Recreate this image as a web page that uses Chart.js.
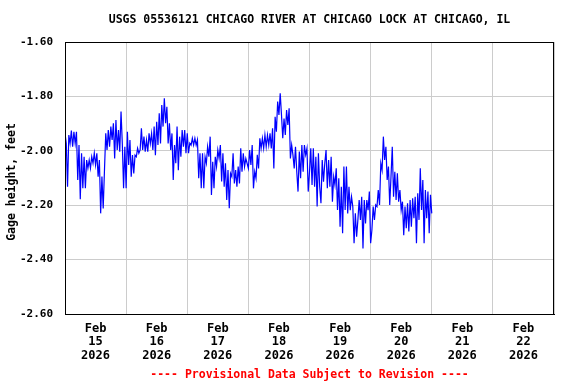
<!DOCTYPE html>
<html>
<head>
<meta charset="utf-8">
<script src="https://cdn.jsdelivr.net/npm/chart.js@4.4.1/dist/chart.umd.min.js"></script>
<style>
    html, body { margin: 0; padding: 0; background: #ffffff; }
    #wrap { width: 576px; height: 384px; }
</style>
</head>
<body>
<div id="wrap"><canvas id="Chart1" width="576" height="384"></canvas></div>
<script>
// gage height (feet), every 30 minutes, one array per day starting 00:00
var feb15 = [
    -1.936, -1.973, -2.132, -1.942, -1.973, -1.926, -1.985, -1.930, -1.973, -1.930, -2.107, -1.979,
    -2.178, -2.009, -2.138, -2.022, -2.138, -2.034, -2.064, -2.034, -2.064, -2.022, -2.046, -2.009,
    -2.052, -2.009, -2.095, -2.034, -2.230, -2.095, -2.212, -2.071, -1.936, -1.997, -1.924, -1.985,
    -1.911, -1.960, -1.899, -2.028, -1.887, -1.997, -1.924, -2.003, -1.856, -1.973, -2.138, -1.985
];
var feb16 = [
    -2.138, -1.930, -2.052, -1.960, -2.095, -2.016, -2.083, -2.016, -2.022, -1.991, -2.009, -1.997,
    -1.917, -1.997, -1.948, -2.003, -1.960, -2.003, -1.936, -1.973, -1.936, -1.997, -1.911, -2.016,
    -1.893, -1.979, -1.862, -1.973, -1.832, -1.911, -1.807, -1.899, -1.838, -1.973, -1.899, -1.997,
    -1.936, -2.107, -1.979, -2.046, -1.911, -2.071, -1.948, -2.022, -1.924, -1.985, -1.924, -2.009
];
var feb17 = [
    -1.936, -2.009, -1.972, -1.979, -1.954, -1.979, -1.954, -1.979, -1.960, -2.101, -2.009, -2.138,
    -2.009, -2.138, -2.022, -2.046, -1.985, -2.022, -1.948, -2.162, -2.040, -2.138, -2.022, -2.058,
    -1.997, -2.028, -1.979, -2.113, -2.009, -2.132, -2.046, -2.181, -2.071, -2.211, -2.083, -2.095,
    -2.009, -2.120, -2.071, -2.132, -2.058, -2.120, -1.991, -2.077, -2.009, -2.058, -2.028, -2.046
];
var feb18 = [
    -2.065, -1.997, -2.052, -1.979, -2.138, -2.077, -2.101, -2.015, -2.065, -1.954, -1.991, -1.954,
    -1.991, -1.942, -1.985, -1.942, -1.979, -1.936, -1.991, -1.917, -2.065, -1.875, -1.930, -1.819,
    -1.868, -1.789, -1.868, -1.954, -1.881, -1.942, -1.850, -1.905, -1.844, -2.028, -1.979, -2.015,
    -2.065, -1.985, -2.077, -2.150, -2.003, -2.101, -1.979, -2.077, -1.979, -2.015, -1.991, -2.150
];
var feb19 = [
    -2.077, -1.991, -2.126, -1.991, -2.132, -2.022, -2.205, -2.009, -2.132, -2.193, -2.034, -2.114,
    -2.046, -1.997, -2.138, -2.034, -2.132, -2.022, -2.187, -2.095, -2.126, -2.064, -2.218, -2.101,
    -2.279, -2.132, -2.303, -2.058, -2.218, -2.058, -2.230, -2.132, -2.218, -2.169, -2.205, -2.340,
    -2.230, -2.316, -2.254, -2.181, -2.254, -2.169, -2.359, -2.181, -2.267, -2.181, -2.218, -2.150
];
var feb20 = [
    -2.340, -2.291, -2.205, -2.254, -2.199, -2.205, -2.144, -2.199, -2.046, -2.071, -1.948, -2.034,
    -1.985, -2.107, -2.058, -2.199, -2.095, -1.985, -2.169, -2.077, -2.181, -2.083, -2.187, -2.144,
    -2.218, -2.187, -2.310, -2.205, -2.285, -2.193, -2.297, -2.181, -2.279, -2.175, -2.248, -2.169,
    -2.340, -2.156, -2.254, -2.064, -2.218, -2.107, -2.340, -2.144, -2.248, -2.150, -2.303, -2.162,
    -2.230
];
var stepHours = 0.5;
var monthName = 'Feb';
var yearName = '2026';
var dayNames = ['15', '16', '17', '18', '19', '20', '21', '22'];
var yMin = -2.6, yMax = -1.6, yStep = 0.2;
var titleText = 'USGS 05536121 CHICAGO RIVER AT CHICAGO LOCK AT CHICAGO, IL';
var yTitleText = 'Gage height, feet';
var footText = '---- Provisional Data Subject to Revision ----';

var FONT = "'DejaVu Sans Mono', 'Liberation Mono', monospace";

var gageHeight = feb15.concat(feb16, feb17, feb18, feb19, feb20);
var points = gageHeight.map(function (v, i) {
    return { x: i * stepHours, y: v };
});

var textPlugin = {
    id: 'usgsText',
    afterDraw: function (chart) {
        var c = chart.ctx, a = chart.chartArea;
        var cx = (a.left + a.right) / 2;
        c.save();
        c.strokeStyle = '#000000';
        c.lineWidth = 1;
        c.strokeRect(a.left + 0.5, a.top + 0.5, a.right - a.left - 1, a.bottom - a.top);
        c.textAlign = 'center';
        c.textBaseline = 'middle';
        c.fillStyle = '#000000';
        c.font = 'bold 11.5px ' + FONT;
        c.fillText(titleText, cx, 20);
        c.fillStyle = '#ff0000';
        c.fillText(footText, cx, 375);
        c.fillStyle = '#000000';
        c.translate(12, (a.top + a.bottom) / 2 + 4);
        c.rotate(-Math.PI / 2);
        c.fillText(yTitleText, 0, 0);
        c.restore();
    }
};

var ctx1 = document.getElementById('Chart1');
var crt1 = new Chart(ctx1, {
    type: 'line',
    data: {
        datasets: [{
            label: 'Gage height',
            data: points,
            borderColor: '#0000ff',
            borderWidth: 1.2,
            pointRadius: 0,
            tension: 0,
            fill: false
        }]
    },
    options: {
        responsive: false,
        animation: false,
        layout: { padding: { top: 42, right: 22, bottom: 0, left: 0 } },
        plugins: {
            legend: { display: false },
            title: { display: false },
            tooltip: { enabled: false }
        },
        scales: {
            x: {
                type: 'linear',
                min: 0,
                max: 192,
                afterFit: function (scale) { scale.height = 70; },
                afterBuildTicks: function (scale) {
                    var t = [];
                    for (var v = 0; v <= 192; v += 12) t.push({ value: v });
                    scale.ticks = t;
                },
                border: { color: '#000000', width: 1 },
                grid: {
                    drawTicks: false,
                    color: function (ctx) {
                        if (ctx.tick && ctx.tick.value % 24 === 0) return '#cccccc';
                        return 'rgba(0,0,0,0)';
                    }
                },
                ticks: {
                    autoSkip: false,
                    maxRotation: 0,
                    padding: 8,
                    color: '#000000',
                    font: { family: FONT, size: 12, weight: 'bold', lineHeight: 1.12 },
                    callback: function (value) {
                        if (value % 24 !== 12) return '';
                        var d = (value - 12) / 24;
                        return [monthName, dayNames[d], yearName];
                    }
                }
            },
            y: {
                min: yMin,
                max: yMax,
                afterFit: function (scale) { scale.width = 65; },
                border: { color: '#000000', width: 1 },
                grid: { drawTicks: false, color: '#cccccc' },
                ticks: {
                    stepSize: yStep,
                    padding: 12,
                    color: '#000000',
                    font: { family: FONT, size: 11, weight: 'bold' },
                    callback: function (value) {
                        return value.toFixed(2);
                    }
                }
            }
        }
    },
    plugins: [textPlugin]
});
</script>
</body>
</html>
